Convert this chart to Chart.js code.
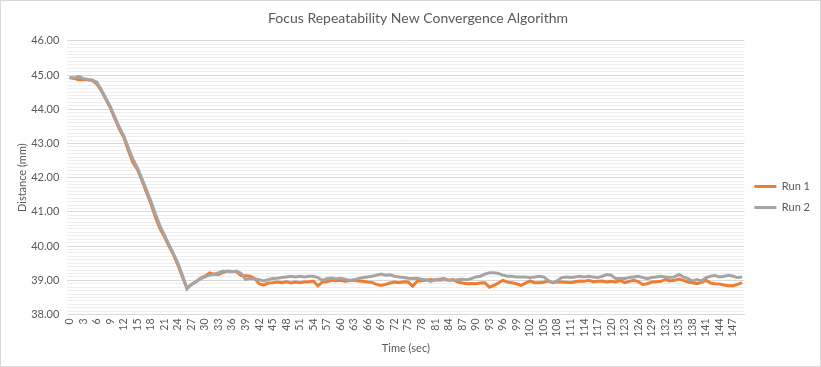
<!DOCTYPE html>
<html>
<head>
<meta charset="utf-8">
<script src="https://cdn.jsdelivr.net/npm/chart.js@4/dist/chart.umd.min.js"></script>
<style>
  html, body { margin: 0; padding: 0; background: #fff; }
  #wrap { position: relative; width: 819px; height: 365px; border: 1px solid #d9d9d9; }
</style>
</head>
<body>
<div id="wrap"><canvas id="grafico"></canvas></div>
<script>
// seconds 0..149
let tempos = [];
for (let i = 0; i < 150; i++) tempos.push(String(i));

let run1 = [
  44.93,44.90,44.86,44.86,44.87,44.84,44.74,44.55,44.30,44.05,
  43.73,43.43,43.18,42.80,42.45,42.25,41.93,41.58,41.25,40.85,
  40.52,40.28,40.00,39.75,39.45,39.10,38.78,38.88,38.96,39.06,
  39.12,39.22,39.18,39.17,39.23,39.27,39.26,39.25,39.14,39.13,
  39.12,39.05,38.90,38.86,38.92,38.93,38.95,38.93,38.96,38.92,
  38.95,38.93,38.95,38.96,38.98,38.84,38.95,38.96,39.00,38.99,
  39.00,38.97,38.99,39.00,38.98,38.97,38.95,38.94,38.88,38.85,
  38.88,38.92,38.95,38.93,38.96,38.95,38.83,38.97,38.99,39.00,
  39.02,39.00,39.03,39.05,39.00,39.02,38.95,38.92,38.90,38.91,
  38.90,38.92,38.93,38.80,38.85,38.92,39.00,38.95,38.93,38.90,
  38.85,38.92,38.98,38.93,38.93,38.94,38.98,38.93,38.95,38.95,
  38.94,38.93,38.96,38.98,38.97,39.00,38.96,38.97,38.98,38.95,
  38.97,38.95,39.00,38.93,38.97,39.00,38.96,38.88,38.90,38.95,
  38.96,38.97,39.02,38.98,39.00,39.04,39.00,38.95,38.93,38.90,
  38.94,39.00,38.92,38.90,38.89,38.86,38.84,38.84,38.88,38.93
];

let run2 = [
  44.92,44.91,44.96,44.90,44.87,44.85,44.80,44.58,44.33,44.08,
  43.78,43.48,43.22,42.88,42.55,42.30,41.98,41.65,41.32,40.95,
  40.60,40.33,40.05,39.78,39.50,39.15,38.75,38.88,38.96,39.04,
  39.10,39.15,39.18,39.22,39.27,39.26,39.25,39.27,39.20,39.02,
  39.05,39.04,39.02,38.98,39.02,39.05,39.06,39.08,39.10,39.12,
  39.10,39.12,39.10,39.12,39.12,39.08,39.00,39.05,39.07,39.04,
  39.06,39.03,39.00,39.02,39.05,39.08,39.10,39.12,39.15,39.18,
  39.15,39.16,39.12,39.10,39.08,39.06,39.05,39.06,39.03,39.02,
  38.97,39.02,39.00,39.02,39.00,39.00,39.02,39.03,39.02,39.05,
  39.10,39.12,39.18,39.22,39.22,39.20,39.15,39.12,39.12,39.10,
  39.10,39.10,39.08,39.10,39.12,39.10,39.00,38.93,38.98,39.08,
  39.10,39.08,39.10,39.12,39.10,39.12,39.10,39.08,39.12,39.17,
  39.15,39.05,39.05,39.05,39.08,39.10,39.12,39.08,39.05,39.08,
  39.10,39.12,39.10,39.08,39.10,39.17,39.10,39.05,38.98,39.02,
  38.98,39.08,39.12,39.14,39.10,39.12,39.15,39.12,39.08,39.10
];

let yMin = 38, yMax = 46;

function inteiro(v) {
  return Math.abs(v - Math.round(v)) < 1e-6;
}

const fonte = "Lato, 'Open Sans', sans-serif";
const cinza = '#595959';

const ctx = document.getElementById('grafico').getContext('2d');
let grafico = new Chart(ctx, {
  type: 'line',
  data: {
    labels: tempos,
    datasets: [
      {
        label: 'Run 1',
        data: run1,
        borderColor: '#ED7D31',
        backgroundColor: '#ED7D31',
        borderWidth: 3,
        pointRadius: 0,
        tension: 0,
        order: 2
      },
      {
        label: 'Run 2',
        data: run2,
        borderColor: '#A5A5A5',
        backgroundColor: '#A5A5A5',
        borderWidth: 3,
        pointRadius: 0,
        tension: 0,
        order: 1
      }
    ]
  },
  options: {
    responsive: true,
    maintainAspectRatio: false,
    animation: false,
    layout: { padding: { left: 15, right: 0, top: 7, bottom: 11 } },
    plugins: {
      tooltip: { enabled: false },
      title: {
        display: true,
        text: 'Focus Repeatability New Convergence Algorithm',
        color: cinza,
        font: { family: fonte, size: 14, weight: 'normal' },
        padding: { top: 2, bottom: 14 }
      },
      legend: {
        position: 'right',
        title: {
          display: true,
          text: ' ',
          font: { family: fonte, size: 11 },
          padding: { top: 8, bottom: 10 }
        },
        labels: {
          color: cinza,
          font: { family: fonte, size: 11 },
          usePointStyle: true,
          pointStyle: 'line',
          pointStyleWidth: 22,
          padding: 10,
          sort: (a, b) => a.datasetIndex - b.datasetIndex
        }
      }
    },
    scales: {
      x: {
        offset: true,
        grid: { display: false, drawTicks: false },
        border: { color: '#d9d9d9' },
        ticks: {
          autoSkip: false,
          maxRotation: 90,
          minRotation: 90,
          color: cinza,
          font: { family: fonte, size: 10.5 },
          padding: 4,
          callback: function(v, i) { return i % 3 === 0 ? this.getLabelForValue(v) : ''; }
        },
        title: {
          display: true,
          text: 'Time (sec)',
          color: cinza,
          font: { family: fonte, size: 11 },
          padding: { top: 1, bottom: 0 }
        }
      },
      y: {
        min: yMin,
        max: yMax,
        grid: {
          drawTicks: false,
          color: c => inteiro(c.tick.value) ? '#d9d9d9' : '#eeeeee',
          lineWidth: 1
        },
        border: { display: false },
        ticks: {
          stepSize: 0.1,
          autoSkip: false,
          color: cinza,
          font: { family: fonte, size: 11 },
          padding: 8,
          callback: v => inteiro(v) ? Number(v).toFixed(2) : ''
        },
        title: {
          display: true,
          text: 'Distance (mm)',
          color: cinza,
          font: { family: fonte, size: 11 },
          padding: { top: 0, bottom: -6 }
        }
      }
    }
  }
});
</script>
</body>
</html>
